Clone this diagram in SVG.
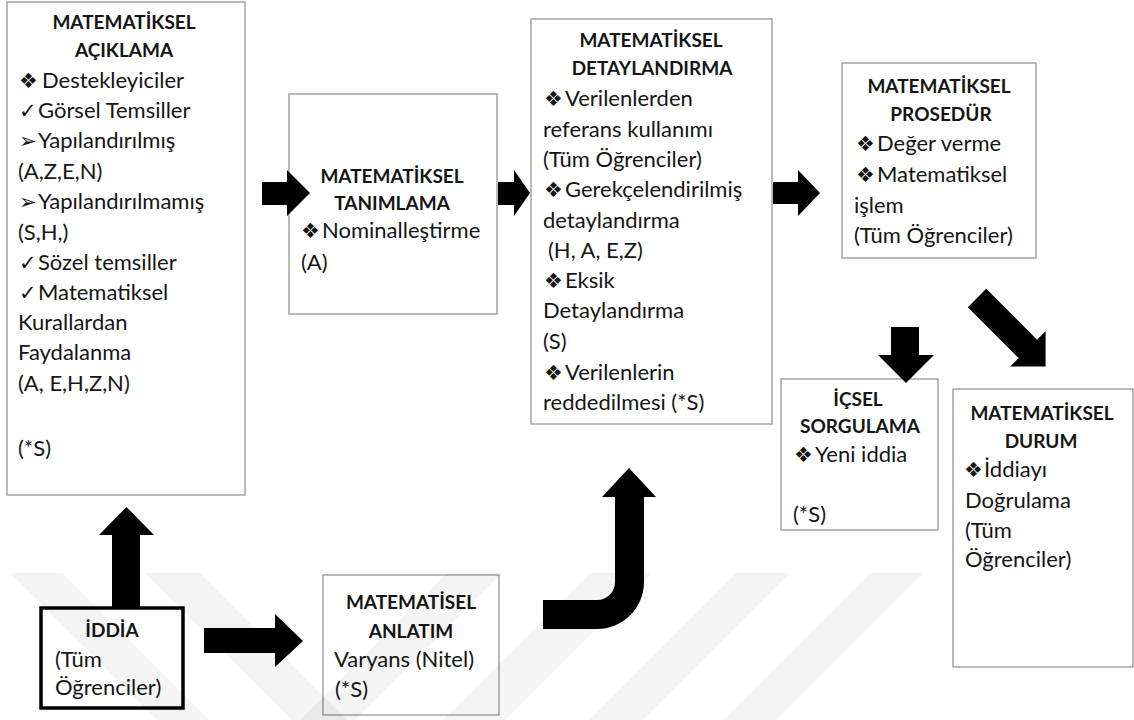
<svg xmlns="http://www.w3.org/2000/svg" width="1134" height="720" viewBox="0 0 1134 720">
<style>
.box{fill:#fff;stroke:#8e8e8e;stroke-width:1.2}
.thick{fill:#fff;stroke:#000;stroke-width:3.5}
.t{font-family:Lato,"Liberation Sans",sans-serif;font-size:22px;fill:#151515}
.h{font-family:Lato,"Liberation Sans",sans-serif;font-size:19px;font-weight:bold;fill:#151515;text-anchor:middle}
.b{font-family:"DejaVu Sans",sans-serif;font-size:21px}
.arr{fill:#000}
.wm{fill:#000;fill-opacity:0.045}
</style>
<rect width="1134" height="720" fill="#fff"/>
<g id="n1">
<rect class="box" x="7" y="2" width="238" height="493"/>
<text class="h" x="124" y="29">MATEMATİKSEL</text>
<text class="h" x="124" y="57">AÇIKLAMA</text>
<text class="t"><tspan class="b" x="19" y="88">❖</tspan><tspan x="42" y="88">Destekleyiciler</tspan></text>
<text class="t"><tspan class="b" x="19" y="118">✓</tspan><tspan x="38" y="118">Görsel Temsiller</tspan></text>
<text class="t"><tspan class="b" x="19" y="148">➢</tspan><tspan x="38" y="148">Yapılandırılmış</tspan></text>
<text class="t" x="18" y="179">(A,Z,E,N)</text>
<text class="t"><tspan class="b" x="19" y="209">➢</tspan><tspan x="38" y="209">Yapılandırılmamış</tspan></text>
<text class="t" x="18" y="240">(S,H,)</text>
<text class="t"><tspan class="b" x="19" y="270">✓</tspan><tspan x="38" y="270">Sözel temsiller</tspan></text>
<text class="t"><tspan class="b" x="19" y="300">✓</tspan><tspan x="38" y="300">Matematiksel</tspan></text>
<text class="t" x="18" y="330">Kurallardan</text>
<text class="t" x="18" y="360">Faydalanma</text>
<text class="t" x="18" y="391">(A, E,H,Z,N)</text>
<text class="t" x="18" y="456">(*S)</text>
</g>
<g id="n2">
<rect class="box" x="289" y="94" width="208" height="220"/>
<text class="h" x="392" y="183">MATEMATİKSEL</text>
<text class="h" x="392" y="210">TANIMLAMA</text>
<text class="t"><tspan class="b" x="301" y="238">❖</tspan><tspan x="322" y="238">Nominalleştirme</tspan></text>
<text class="t" x="301" y="270">(A)</text>
</g>
<g id="n3">
<rect class="box" x="531" y="19" width="241" height="405"/>
<text class="h" x="651" y="47">MATEMATİKSEL</text>
<text class="h" x="652" y="75">DETAYLANDIRMA</text>
<text class="t"><tspan class="b" x="544" y="106">❖</tspan><tspan x="565" y="106">Verilenlerden</tspan></text>
<text class="t" x="543" y="137">referans kullanımı</text>
<text class="t" x="543" y="167">(Tüm Öğrenciler)</text>
<text class="t"><tspan class="b" x="544" y="197">❖</tspan><tspan x="565" y="197">Gerekçelendirilmiş</tspan></text>
<text class="t" x="543" y="228">detaylandırma</text>
<text class="t" x="548" y="258">(H, A, E,Z)</text>
<text class="t"><tspan class="b" x="544" y="288">❖</tspan><tspan x="565" y="288">Eksik</tspan></text>
<text class="t" x="543" y="318">Detaylandırma</text>
<text class="t" x="543" y="349">(S)</text>
<text class="t"><tspan class="b" x="544" y="380">❖</tspan><tspan x="565" y="380">Verilenlerin</tspan></text>
<text class="t" x="543" y="410">reddedilmesi (*S)</text>
</g>
<g id="n4">
<rect class="box" x="842" y="63" width="194" height="195"/>
<text class="h" x="939" y="93">MATEMATİKSEL</text>
<text class="h" x="941" y="121">PROSEDÜR</text>
<text class="t"><tspan class="b" x="856" y="151">❖</tspan><tspan x="877" y="151">Değer verme</tspan></text>
<text class="t"><tspan class="b" x="856" y="182">❖</tspan><tspan x="877" y="182">Matematiksel</tspan></text>
<text class="t" x="854" y="213">işlem</text>
<text class="t" x="854" y="243">(Tüm Öğrenciler)</text>
</g>
<g id="n5">
<rect class="box" x="781" y="379" width="157" height="151"/>
<text class="h" x="858" y="406">İÇSEL</text>
<text class="h" x="860" y="433">SORGULAMA</text>
<text class="t"><tspan class="b" x="794" y="462">❖</tspan><tspan x="815" y="462">Yeni iddia</tspan></text>
<text class="t" x="793" y="522">(*S)</text>
</g>
<g id="n6">
<rect class="box" x="953" y="389" width="180" height="278"/>
<text class="h" x="1042" y="420">MATEMATİKSEL</text>
<text class="h" x="1041" y="448">DURUM</text>
<text class="t"><tspan class="b" x="964" y="477">❖</tspan><tspan x="984" y="477">İddiayı</tspan></text>
<text class="t" x="965" y="508">Doğrulama</text>
<text class="t" x="965" y="538">(Tüm</text>
<text class="t" x="965" y="567">Öğrenciler)</text>
</g>
<g id="n7">
<rect class="thick" x="41" y="608" width="142" height="100"/>
<text class="h" x="112" y="637">İDDİA</text>
<text class="t" x="55" y="667">(Tüm</text>
<text class="t" x="55" y="695">Öğrenciler)</text>
</g>
<g id="n8">
<rect class="box" x="323" y="575" width="176" height="140"/>
<text class="h" x="411" y="609">MATEMATİSEL</text>
<text class="h" x="411" y="638">ANLATIM</text>
<text class="t" x="334" y="667">Varyans (Nitel)</text>
<text class="t" x="335" y="697">(*S)</text>
</g>
<g id="watermark">
<polygon class="wm" points="10,573 62,573 209,720 157,720"/>
<polygon class="wm" points="145,573 200,573 347,720 292,720"/>
<polygon class="wm" points="447,573 502,573 355,720 300,720"/>
<polygon class="wm" points="590,573 652,573 505,720 443,720"/>
<polygon class="wm" points="736,573 790,573 643,720 589,720"/>
<polygon class="wm" points="870,573 923,573 776,720 723,720"/>
</g>
<g id="connectors">
<path class="arr" d="M112,608 L112,535 L99,535 L126.5,507 L154,535 L140,535 L140,608 Z"/>
<path class="arr" d="M204,628 L275,628 L275,614 L303,641 L275,667 L275,653 L204,653 Z"/>
<path class="arr" d="M262,182 L287,182 L287,170 L310,193 L287,216 L287,205 L262,205 Z"/>
<path class="arr" d="M498,182 L514,182 L514,170 L530,193 L514,216 L514,205 L498,205 Z"/>
<path class="arr" d="M773,182 L798,182 L798,170 L820,193 L798,216 L798,204 L773,204 Z"/>
<path class="arr" d="M891,327 L919,327 L919,355 L934,355 L906,383 L878,355 L891,355 Z"/>
<path class="arr" transform="translate(977,298) rotate(45)" d="M0,-13 L72,-13 L72,-25 L97,0 L72,25 L72,13 L0,13 Z"/>
<path class="arr" d="M543,600 L597,600 A18,18 0 0 0 615,582 L615,497 L602,497 L629,468 L656,497 L644,497 L644,582 A47,47 0 0 1 597,629 L543,629 Z"/>
</g>
</svg>
